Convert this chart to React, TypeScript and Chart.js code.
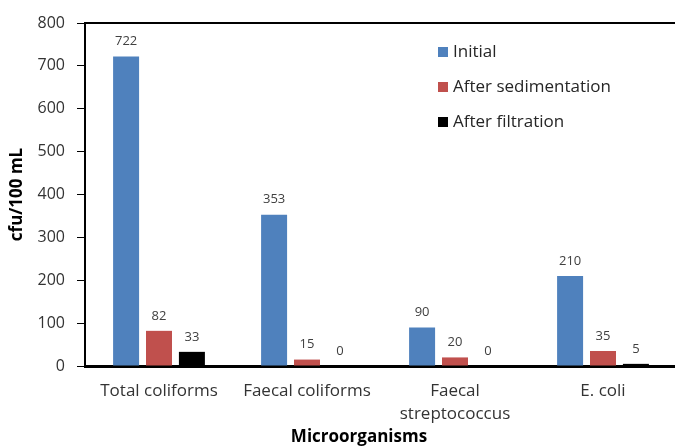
import React, { useEffect, useRef } from 'react';
import { Chart, registerables } from 'chart.js';

Chart.register(...registerables);

const categories: (string | string[])[] = ['Total coliforms', 'Faecal coliforms', ['Faecal', 'streptococcus'], 'E. coli'];
const seriesNames = ['Initial', 'After sedimentation', 'After filtration'];
const initialValues = [722, 353, 90, 210];
const afterSedimentationValues = [82, 15, 20, 35];
const afterFiltrationValues = [33, 0, 0, 5];
const seriesColors = ['#4F81BD', '#C0504D', '#000000'];
const yMin = 0;
const yMax = 800;
const yStep = 100;
const xTitle = 'Microorganisms';
const yTitle = 'cfu/100 mL';

const FONT = "'Open Sans', sans-serif";

const topBorderPlugin = {
  id: 'topBorder',
  afterDraw(chart: any) {
    const { ctx, chartArea } = chart;
    ctx.save();
    ctx.strokeStyle = '#000';
    ctx.lineWidth = 2;
    ctx.beginPath();
    ctx.moveTo(chartArea.left - 1, chartArea.top);
    ctx.lineTo(chartArea.right + 1, chartArea.top);
    ctx.stroke();
    ctx.restore();
  },
};

const dataLabelPlugin = {
  id: 'dataLabels',
  afterDatasetsDraw(chart: any) {
    const { ctx } = chart;
    ctx.save();
    ctx.font = `13px ${FONT}`;
    ctx.fillStyle = '#404040';
    ctx.textAlign = 'center';
    ctx.textBaseline = 'middle';
    chart.data.datasets.forEach((ds: any, i: number) => {
      const meta = chart.getDatasetMeta(i);
      meta.data.forEach((el: any, j: number) => {
        ctx.fillText(String(ds.data[j]), el.x, el.y - 15);
      });
    });
    ctx.restore();
  },
};

const legendPlugin = {
  id: 'insideLegend',
  afterDraw(chart: any) {
    const { ctx } = chart;
    const x = 438;
    const y0 = 52;
    const gap = 35;
    ctx.save();
    ctx.font = `17px ${FONT}`;
    ctx.textAlign = 'left';
    ctx.textBaseline = 'middle';
    chart.data.datasets.forEach((ds: any, i: number) => {
      const y = y0 + i * gap;
      ctx.fillStyle = ds.backgroundColor;
      ctx.fillRect(x, y - 5, 10, 10);
      ctx.fillStyle = '#262626';
      ctx.fillText(ds.label, x + 15, y);
    });
    ctx.restore();
  },
};

const xTitlePlugin = {
  id: 'xTitle',
  afterDraw(chart: any) {
    const { ctx } = chart;
    ctx.save();
    ctx.font = `bold 17px ${FONT}`;
    ctx.fillStyle = '#000';
    ctx.textAlign = 'center';
    ctx.textBaseline = 'middle';
    ctx.fillText(xTitle, 359, 437);
    ctx.restore();
  },
};

export default function App() {
  const canvasRef = useRef<HTMLCanvasElement | null>(null);

  useEffect(() => {
    const canvas = canvasRef.current;
    if (!canvas) return;
    const seriesData = [initialValues, afterSedimentationValues, afterFiltrationValues];
    const chart = new Chart(canvas, {
      type: 'bar',
      data: {
        labels: categories as any,
        datasets: seriesNames.map((name, i) => ({
          label: name,
          data: seriesData[i],
          backgroundColor: seriesColors[i],
          borderWidth: 0,
          categoryPercentage: 0.667,
          barPercentage: 0.79,
        })),
      },
      options: {
        responsive: false,
        animation: false,
        devicePixelRatio: 1,
        layout: { padding: { top: 23, right: 0, bottom: 0, left: 0 } },
        plugins: {
          legend: { display: false },
          tooltip: { enabled: false },
        },
        scales: {
          x: {
            grid: { display: false, drawTicks: false },
            border: { display: true, color: '#000', width: 3 },
            ticks: {
              color: '#333',
              font: { family: FONT, size: 17, lineHeight: 1.35 },
              padding: 14,
              maxRotation: 0,
              autoSkip: false,
            },
            afterFit(scale: any) {
              scale.height = 81;
            },
          },
          y: {
            min: yMin,
            max: yMax,
            ticks: {
              stepSize: yStep,
              color: '#333',
              font: { family: FONT, size: 16 },
              padding: 12,
            },
            grid: { drawOnChartArea: false, drawTicks: true, tickLength: 8, color: '#000', lineWidth: 1 },
            border: { display: true, color: '#000', width: 2 },
            title: {
              display: true,
              text: yTitle,
              color: '#000',
              font: { family: FONT, size: 17, weight: 'bold', lineHeight: 1.2 },
              padding: { top: 7, bottom: 0 },
            },
            afterFit(scale: any) {
              scale.width = 85;
            },
          },
        },
      },
      plugins: [topBorderPlugin, dataLabelPlugin, legendPlugin, xTitlePlugin],
    });
    return () => chart.destroy();
  }, []);

  return (
    <div style={{ position: 'fixed', left: 0, top: 0, width: 675, height: 447, overflow: 'hidden', background: '#fff' }}>
      <canvas ref={canvasRef} width={677} height={447} style={{ display: 'block' }} />
    </div>
  );
}
